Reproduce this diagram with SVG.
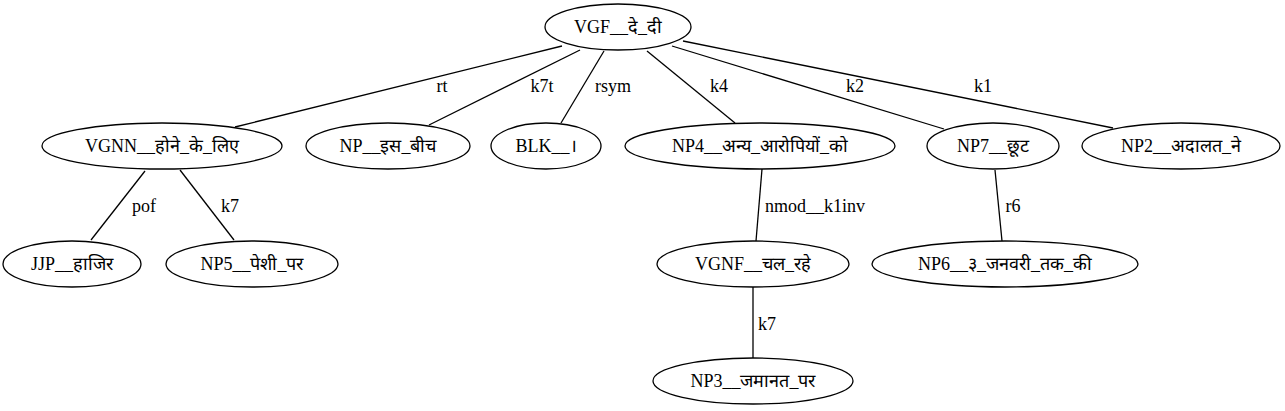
<svg xmlns="http://www.w3.org/2000/svg" width="1285" height="411" viewBox="0 0 1285 411" font-family="Liberation Serif" font-size="18">
<style>
  .node ellipse { fill: none; stroke: #000; stroke-width: 1.3; }
  #edges line { stroke: #000; stroke-width: 1.3; }
</style>
<rect width="1285" height="411" fill="#fff"/>
<g id="edges" text-anchor="middle">
  <line x1="562" y1="46" x2="235" y2="127"/>
  <line x1="580" y1="50" x2="429" y2="125"/>
  <line x1="604" y1="51" x2="561" y2="123"/>
  <line x1="647" y1="51" x2="735" y2="123"/>
  <line x1="672" y1="46" x2="944" y2="129"/>
  <line x1="683" y1="41" x2="1113" y2="128"/>
  <line x1="145" y1="171" x2="91" y2="240"/>
  <line x1="180" y1="170" x2="234" y2="240"/>
  <line x1="762" y1="169" x2="756" y2="241"/>
  <line x1="995" y1="170" x2="1002" y2="241"/>
  <line x1="753" y1="287" x2="753" y2="358"/>
  <text x="442" y="92" font-family="Liberation Serif">rt</text>
  <text x="542" y="92" font-family="Liberation Serif">k7t</text>
  <text x="613" y="92" font-family="Liberation Serif">rsym</text>
  <text x="719" y="92" font-family="Liberation Serif">k4</text>
  <text x="855" y="92" font-family="Liberation Serif">k2</text>
  <text x="983" y="92" font-family="Liberation Serif">k1</text>
  <text x="144" y="212" font-family="Liberation Serif">pof</text>
  <text x="230" y="212" font-family="Liberation Serif">k7</text>
  <text x="815" y="212" font-family="Liberation Serif">nmod__k1inv</text>
  <text x="1013" y="212" font-family="Liberation Serif">r6</text>
  <text x="767" y="330" font-family="Liberation Serif">k7</text>
</g>
<g text-anchor="middle">
<g id="n_vgf" class="node"><ellipse cx="618" cy="27" rx="73" ry="23"/><text x="618" y="33">VGF__दे_दी</text></g>
<g id="n_vgnn" class="node"><ellipse cx="162" cy="146" rx="120" ry="23"/><text x="162" y="152">VGNN__होने_के_लिए</text></g>
<g id="n_np" class="node"><ellipse cx="388" cy="146" rx="82" ry="23"/><text x="388" y="152">NP__इस_बीच</text></g>
<g id="n_blk" class="node"><ellipse cx="546" cy="146" rx="55" ry="23"/><text x="546" y="152">BLK__।</text></g>
<g id="n_np4" class="node"><ellipse cx="760" cy="146" rx="135" ry="23"/><text x="760" y="152">NP4__अन्य_आरोपियों_को</text></g>
<g id="n_np7" class="node"><ellipse cx="993" cy="146" rx="66" ry="23"/><text x="993" y="152">NP7__छूट</text></g>
<g id="n_np2" class="node"><ellipse cx="1181" cy="146" rx="99" ry="23"/><text x="1181" y="152">NP2__अदालत_ने</text></g>
<g id="n_jjp" class="node"><ellipse cx="72" cy="264" rx="69" ry="23"/><text x="72" y="270">JJP__हाजिर</text></g>
<g id="n_np5" class="node"><ellipse cx="252" cy="264" rx="86" ry="23"/><text x="252" y="270">NP5__पेशी_पर</text></g>
<g id="n_vgnf" class="node"><ellipse cx="753" cy="264" rx="96" ry="23"/><text x="753" y="270">VGNF__चल_रहे</text></g>
<g id="n_np6" class="node"><ellipse cx="1005" cy="264" rx="133" ry="23"/><text x="1005" y="270">NP6__३_जनवरी_तक_की</text></g>
<g id="n_np3" class="node"><ellipse cx="753" cy="381" rx="100" ry="23"/><text x="753" y="387">NP3__जमानत_पर</text></g>
</g>
</svg>
